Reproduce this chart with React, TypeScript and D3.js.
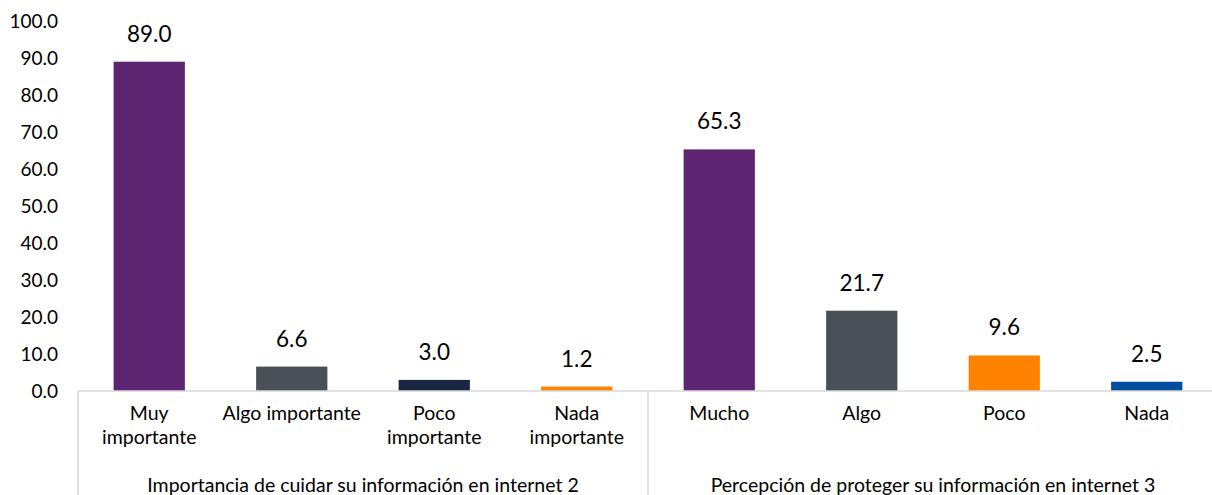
import React from "react";
import * as d3 from "d3";

const groups = [
  "Importancia de cuidar su información en internet 2",
  "Percepción de proteger su información en internet 3",
];
const categories = [
  "Muy|importante",
  "Algo importante",
  "Poco|importante",
  "Nada|importante",
  "Mucho",
  "Algo",
  "Poco",
  "Nada",
];
const values = [89.0, 6.6, 3.0, 1.2, 65.3, 21.7, 9.6, 2.5];
const colors = ["#5E2572", "#495057", "#1A2744", "#FF8300", "#5E2572", "#495057", "#FF8300", "#004F9F"];
const yTicks = [0, 10, 20, 30, 40, 50, 60, 70, 80, 90, 100];

const W = 1212;
const H = 495;
const FONT = "Lato, 'Open Sans', sans-serif";

export default function App() {
  const x0 = 78;
  const band = 142.5;
  const x = d3
    .scaleBand<number>()
    .domain(d3.range(categories.length))
    .range([x0, x0 + band * categories.length])
    .paddingInner(0.5)
    .paddingOuter(0.25);
  const y = d3.scaleLinear().domain([0, 100]).range([391, 21]);
  const axisY = y(0);

  return (
    <svg
      width={W}
      height={H}
      style={{ position: "absolute", left: 0, top: 0, background: "#fff" }}
      fontFamily={FONT}
    >
      {yTicks.map((t) => (
        <text key={t} x={58} y={y(t)} dy="0.36em" textAnchor="end" fontSize={19} fill="#000">
          {t.toFixed(1)}
        </text>
      ))}
      {values.map((v, i) => (
        <rect
          key={i}
          x={x(i)!}
          y={y(v)}
          width={x.bandwidth()}
          height={axisY - y(v)}
          fill={colors[i]}
        />
      ))}
      {values.map((v, i) => (
        <text
          key={"v" + i}
          x={x(i)! + x.bandwidth() / 2}
          y={y(v) - 20}
          textAnchor="middle"
          fontSize={22.5}
          fill="#000"
        >
          {v.toFixed(1)}
        </text>
      ))}
      <line x1={x0} x2={W} y1={axisY} y2={axisY} stroke="#d9d9d9" strokeWidth={1.5} />
      {[0, 4, 8].map((k) => (
        <line
          key={"s" + k}
          x1={x0 + band * k}
          x2={x0 + band * k}
          y1={axisY}
          y2={H}
          stroke="#d9d9d9"
          strokeWidth={1.5}
        />
      ))}
      {categories.map((c, i) => {
        const lines = c.split("|");
        const cx = x0 + band * (i + 0.5);
        return (
          <text key={"c" + i} x={cx} textAnchor="middle" fontSize={19.5} fill="#000">
            {lines.map((l, j) => (
              <tspan key={j} x={cx} y={420 + j * 24}>
                {l}
              </tspan>
            ))}
          </text>
        );
      })}
      {groups.map((g, k) => (
        <text
          key={"g" + k}
          x={x0 + band * (4 * k + 2)}
          y={492}
          textAnchor="middle"
          fontSize={19.5}
          fill="#000"
        >
          {g}
        </text>
      ))}
    </svg>
  );
}
